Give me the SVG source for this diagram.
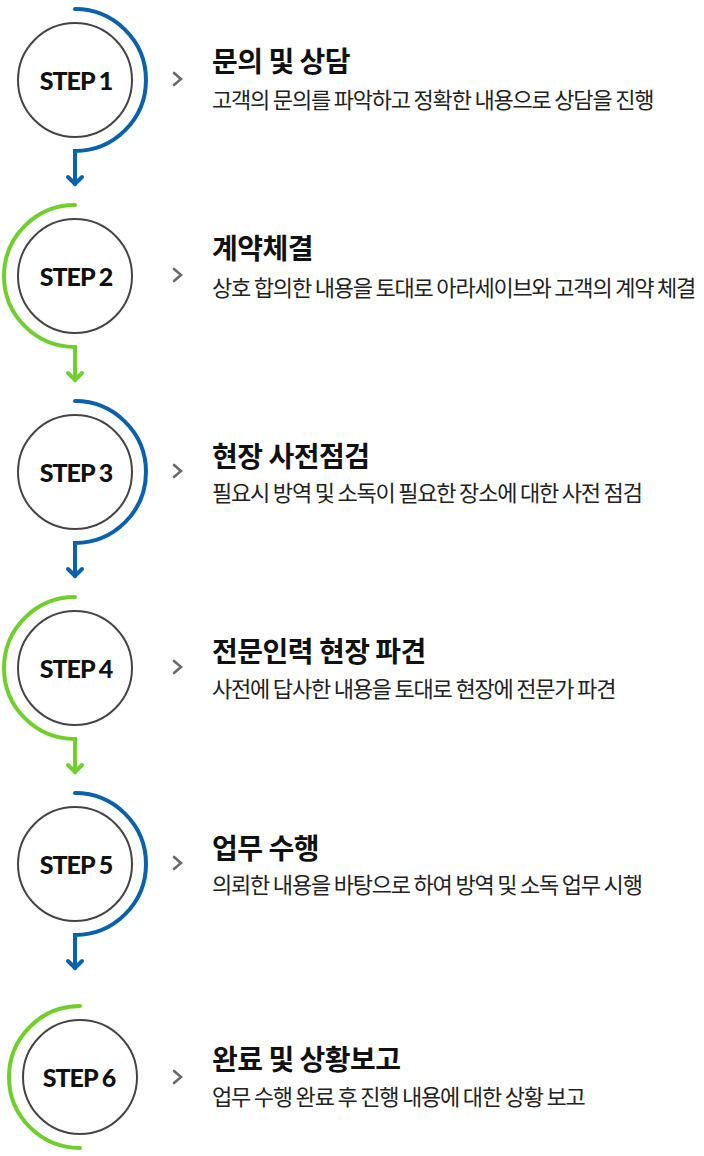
<svg xmlns="http://www.w3.org/2000/svg" width="704" height="1156" viewBox="0 0 704 1156">
  <style>
    .ring { fill: #ffffff; stroke: #444444; stroke-width: 2; }
    .step { font-family: Lato, "Liberation Sans", sans-serif; font-weight: 900; font-size: 25px; letter-spacing: -1px; fill: #111111; text-anchor: middle; }
    .title { font-family: "Noto Sans CJK KR", "Noto Sans", sans-serif; font-weight: 700; font-size: 28px; letter-spacing: -0.5px; fill: #111111; }
    .sub { font-family: "Noto Sans CJK KR", "Noto Sans", sans-serif; font-weight: 400; font-size: 22px; letter-spacing: -1.2px; fill: #222222; }
    .chev { fill: none; stroke: #6a6a6a; stroke-width: 2.6; stroke-linecap: round; stroke-linejoin: miter; }
    .blue { fill: none; stroke: #0a62ae; stroke-width: 4; stroke-linecap: round; }
    .green { fill: none; stroke: #6fd02c; stroke-width: 4; stroke-linecap: round; }
  </style>
  <defs>
    <marker id="arrBlue" markerUnits="userSpaceOnUse" viewBox="0 0 12 16" refX="8" refY="8" markerWidth="12" markerHeight="16" orient="auto" overflow="visible">
      <path d="M1,1 L8,8 L1,15" fill="none" stroke="#0a62ae" stroke-width="4" stroke-linecap="round" stroke-linejoin="miter"/>
    </marker>
    <marker id="arrGreen" markerUnits="userSpaceOnUse" viewBox="0 0 12 16" refX="8" refY="8" markerWidth="12" markerHeight="16" orient="auto" overflow="visible">
      <path d="M1,1 L8,8 L1,15" fill="none" stroke="#6fd02c" stroke-width="4" stroke-linecap="round" stroke-linejoin="miter"/>
    </marker>
  </defs>
  <rect width="704" height="1156" fill="#ffffff"/>

  <g id="connectors">
    <path class="blue" d="M75,9 A71,71 0 0 1 75,151 L75,184" marker-end="url(#arrBlue)"/>
    <path class="green" d="M75,205 A71,71 0 0 0 75,347 L75,380" marker-end="url(#arrGreen)"/>
    <path class="blue" d="M75,401 A71,71 0 0 1 75,543 L75,576" marker-end="url(#arrBlue)"/>
    <path class="green" d="M75,597 A71,71 0 0 0 75,739 L75,772" marker-end="url(#arrGreen)"/>
    <path class="blue" d="M75,793 A71,71 0 0 1 75,935 L75,968" marker-end="url(#arrBlue)"/>
    <path class="green" d="M80,1006 A71,71 0 0 0 80,1148"/>
  </g>

  <g id="step1">
    <circle class="ring" cx="75" cy="80" r="57"/>
    <text class="step" x="76" y="89.5">STEP 1</text>
    <path class="chev" d="M174,73 L181,79 L174,85"/>
    <text class="title" x="212" y="72">문의 및 상담</text>
    <text class="sub" x="212" y="108">고객의 문의를 파악하고 정확한 내용으로 상담을 진행</text>
  </g>

  <g id="step2">
    <circle class="ring" cx="75" cy="276" r="57"/>
    <text class="step" x="76" y="285.5">STEP 2</text>
    <path class="chev" d="M174,269 L181,275 L174,281"/>
    <text class="title" x="212" y="259">계약체결</text>
    <text class="sub" x="212" y="296">상호 합의한 내용을 토대로 아라세이브와 고객의 계약 체결</text>
  </g>

  <g id="step3">
    <circle class="ring" cx="75" cy="472" r="57"/>
    <text class="step" x="76" y="481.5">STEP 3</text>
    <path class="chev" d="M174,465 L181,471 L174,477"/>
    <text class="title" x="212" y="467">현장 사전점검</text>
    <text class="sub" x="212" y="501">필요시 방역 및 소독이 필요한 장소에 대한 사전 점검</text>
  </g>

  <g id="step4">
    <circle class="ring" cx="75" cy="668" r="57"/>
    <text class="step" x="76" y="677.5">STEP 4</text>
    <path class="chev" d="M174,661 L181,667 L174,673"/>
    <text class="title" x="212" y="662">전문인력 현장 파견</text>
    <text class="sub" x="212" y="697">사전에 답사한 내용을 토대로 현장에 전문가 파견</text>
  </g>

  <g id="step5">
    <circle class="ring" cx="75" cy="864" r="57"/>
    <text class="step" x="76" y="873.5">STEP 5</text>
    <path class="chev" d="M174,857 L181,863 L174,869"/>
    <text class="title" x="212" y="859">업무 수행</text>
    <text class="sub" x="212" y="893">의뢰한 내용을 바탕으로 하여 방역 및 소독 업무 시행</text>
  </g>

  <g id="step6">
    <circle class="ring" cx="80" cy="1077" r="57"/>
    <text class="step" x="79" y="1086.5">STEP 6</text>
    <path class="chev" d="M174,1071 L181,1077 L174,1083"/>
    <text class="title" x="212" y="1070">완료 및 상황보고</text>
    <text class="sub" x="212" y="1105">업무 수행 완료 후 진행 내용에 대한 상황 보고</text>
  </g>
</svg>
